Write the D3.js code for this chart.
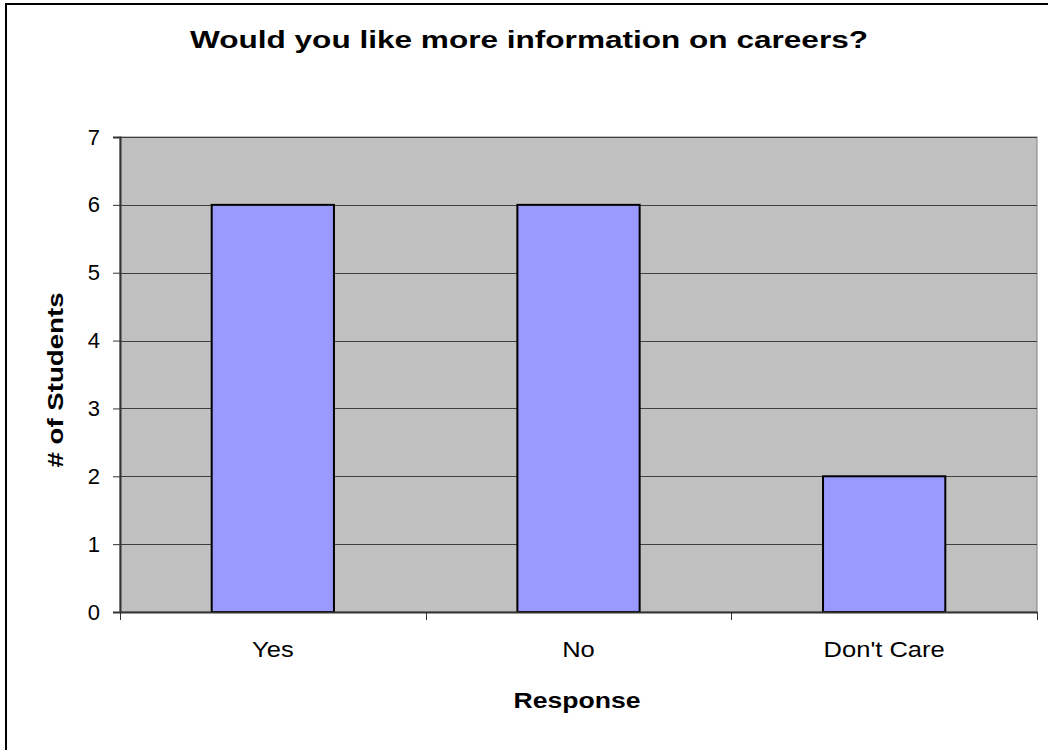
<!DOCTYPE html>
<html>
<head>
<meta charset="utf-8">
<script src="https://cdn.jsdelivr.net/npm/d3@7"></script>
<style>
  body { margin: 0; background: #fff; }
  svg { display: block; font-family: "Liberation Sans", Arial, sans-serif; }
</style>
</head>
<body>
<svg width="1048" height="750"></svg>
<script>
var categories = ["Yes", "No", "Don't Care"];
var values = [6, 6, 2];
var yTicks = [0, 1, 2, 3, 4, 5, 6, 7];

var svg = d3.select("svg");
var plotL = 120, plotR = 1037, plotT = 137, plotB = 612;

// outer frame (right/bottom edges fall off the picture)
svg.append("rect")
  .attr("x", 6).attr("y", 4)
  .attr("width", 1060).attr("height", 760)
  .attr("fill", "#fff").attr("stroke", "#000").attr("stroke-width", 2);

var x = d3.scaleBand().domain(categories).range([plotL, plotR]);
var y = d3.scaleLinear().domain([0, 7]).range([plotB, plotT]);

// plot background
svg.append("rect")
  .attr("x", plotL).attr("y", plotT)
  .attr("width", plotR - plotL).attr("height", plotB - plotT)
  .attr("fill", "#c0c0c0").attr("stroke", "#808080").attr("stroke-width", 1);

// gridlines
svg.append("g").selectAll("line").data(yTicks.slice(1))
  .enter().append("line")
  .attr("x1", plotL).attr("x2", plotR)
  .attr("y1", function(d){ return Math.round(y(d)) + 0.5; })
  .attr("y2", function(d){ return Math.round(y(d)) + 0.5; })
  .attr("stroke", "#404040").attr("stroke-width", 1);

// bars
var bw = x.bandwidth() * 0.4;
svg.append("g").selectAll("rect").data(values)
  .enter().append("rect")
  .attr("x", function(d, i){ return x(categories[i]) + (x.bandwidth() - bw) / 2; })
  .attr("y", function(d){ return y(d); })
  .attr("width", bw)
  .attr("height", function(d){ return y(0) - y(d); })
  .attr("fill", "#9999ff").attr("stroke", "#000").attr("stroke-width", 2);

// y axis
var yAxis = svg.append("g")
  .attr("transform", "translate(" + plotL + ",0)")
  .call(d3.axisLeft(y).tickValues(yTicks).tickSize(7).tickPadding(13).tickFormat(d3.format("d")));
yAxis.select(".domain").attr("stroke", "#333").attr("stroke-width", 2);
yAxis.selectAll(".tick line").attr("stroke", "#333");
yAxis.selectAll("text").attr("font-size", 22).attr("fill", "#000")
  .attr("font-family", "Liberation Sans, Arial, sans-serif");

// x axis
var xAxis = svg.append("g")
  .attr("transform", "translate(0," + plotB + ")")
  .call(d3.axisBottom(x).tickSize(0).tickPadding(29));
xAxis.select(".domain").attr("stroke", "#333").attr("stroke-width", 2);
xAxis.selectAll("text").attr("font-size", 22).attr("fill", "#000")
  .attr("transform", "scale(1.16,1)")
  .attr("font-family", "Liberation Sans, Arial, sans-serif");

// category separator ticks
var seps = [plotL].concat(categories.map(function(c){ return x(c) + x.bandwidth(); }));
svg.append("g").selectAll("line").data(seps)
  .enter().append("line")
  .attr("x1", function(d){ return Math.round(d) + 0.5; })
  .attr("x2", function(d){ return Math.round(d) + 0.5; })
  .attr("y1", plotB).attr("y2", plotB + 8)
  .attr("stroke", "#333");

// title
svg.append("text")
  .attr("x", 529).attr("y", 48)
  .attr("text-anchor", "middle")
  .attr("font-size", 23).attr("font-weight", "bold")
  .attr("textLength", 678).attr("lengthAdjust", "spacingAndGlyphs")
  .text("Would you like more information on careers?");

// axis titles
svg.append("text")
  .attr("x", 577).attr("y", 708)
  .attr("text-anchor", "middle")
  .attr("font-size", 22).attr("font-weight", "bold")
  .attr("textLength", 127).attr("lengthAdjust", "spacingAndGlyphs")
  .text("Response");

svg.append("text")
  .attr("transform", "translate(63,380) rotate(-90)")
  .attr("text-anchor", "middle")
  .attr("font-size", 22).attr("font-weight", "bold")
  .attr("textLength", 175).attr("lengthAdjust", "spacingAndGlyphs")
  .text("# of Students");
</script>
</body>
</html>
